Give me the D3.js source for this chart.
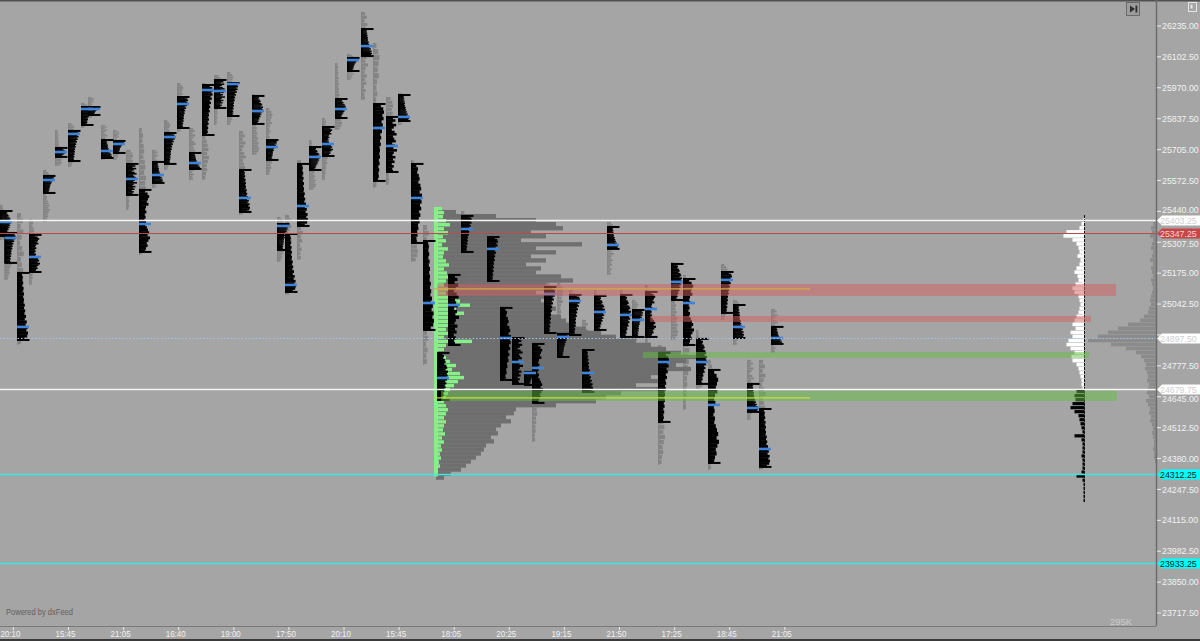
<!DOCTYPE html>
<html><head><meta charset="utf-8">
<script src="https://cdn.jsdelivr.net/npm/d3@7"></script>
<style>
html,body{margin:0;padding:0;background:#a5a5a5;overflow:hidden;}
svg{display:block;}
text{font-family:"Liberation Sans",Arial,sans-serif;}
</style></head><body>
<svg id="chart" width="1200" height="641"></svg>
<script>
// ---------------- DATA ----------------
const timeLabels = ["20:10","15:45","21:05","16:40","19:00","17:50","20:10","15:45","18:05","20:25","19:15","21:50","17:25","18:45","21:05"];
const priceTicks = [23717.5,23850,23982.5,24115,24247.5,24380,24512.5,24645,24777.5,24910,25042.5,25175,25307.5,25440,25572.5,25705,25837.5,25970,26102.5,26235];

// session profiles (slot = time column)
const profSlot = [0,0.36,1.36,2.32,3.44,4.4,5.44,6.48,7.04,8.08,9.04,10.08,11.12,12.16,13.12,14.16,15.12,16.16,17.12,18.16,19.12,20.16,21.28,22.16,22.8,23.76,24.72,25.76,26.8,27.76,28.88,29.84,30.88,31.84,32.88,33.84,34.96,35.84,36.88,38.96,40,40.96,41.92,42.56,43.52,44.56,45.52,46.56,47.52,48.56,49.6,50.56,51.6,52.64,53.68,54.64,55.68,56.64,57.68,58.64,59.76,60.72,61.68];
const profHigh = [25441.5,25347.5,25176,25339,25592,25712,25785,25887.5,25887.5,25746,25742,25643.5,25532,25652,25776,25930.5,25690.5,25982,26003.5,25990.5,25617.5,25935,25746,25386,25343,25643.5,25716,25802,25922,26098,26222,25900.5,25845,25939,25643.5,25313,24833,25167.5,25420.5,25330,25026,24897,24751.5,24871.5,25116,24914.5,25081.5,24845.5,25077.5,25373,25081.5,25017,25094.5,24833,25214.5,25150,24893,24760,25180,25038.5,24700,24592.5,24944.5];
const profLow = [25334.5,25219,24888.5,25180,25519,25673.5,25656,25810.5,25853.5,25669,25690.5,25510.5,25266,25562,25643.5,25797.5,25622,25767.5,25883.5,25849,25437.5,25815,25660.5,25274.5,25094.5,25377.5,25617.5,25677.5,25840.5,26042,26106,25570.5,25609,25827.5,25304.5,24931.5,24631.5,24867,25266,25141.5,24717,24700,24695.5,24618.5,24918.5,24815.5,24910,24665.5,24931.5,25279,24901.5,24901.5,24901.5,24537,25060,24867,24700,24361,25004.5,24897,24580,24344,24871.5];
const profPoc = [25394.5,25326,24944.5,25244.5,25574.5,25694.5,25772,25879,25879,25699,25729,25579,25386,25596,25759,25900.5,25647.5,25960.5,25956,25986,25497.5,25870.5,25716,25377.5,25124.5,25463,25673.5,25729,25879,26089,26149,25797.5,25720.5,25845,25497.5,25047,24725.5,25038.5,25364.5,25279,24897,24794,24747,24768.5,25086,24901.5,25056,24747,25008.5,25296,24996,24974.5,25021.5,24794,25137.5,25047,24794,24610,25146,24944.5,24597,24421,24897];
const profGreyHigh = [25467.5,25437.5,25433,25407.5,25617.5,25789,25819,25905,25930.5,25810.5,25789,25703.5,25797.5,25703.5,25832,25990.5,25797.5,25990.5,26025,26038,25785,25943,25883.5,25416,25424.5,25660.5,25746,25840.5,26076,26115,26295,26162,25930.5,25948,25660.5,25381.5,24833,25167.5,25441.5,25403,25060,24991.5,24781.5,24888.5,25146,25133,25103,24974.5,25103,25394.5,25103,25060,25124.5,24867,25223,25167.5,24931.5,24803,25214.5,25060,24803,24803,25021.5];
const profGreyLow = [25317.5,25146,24867,25124.5,25394.5,25634.5,25630.5,25797.5,25840.5,25660.5,25660.5,25446,25253,25540.5,25617.5,25780.5,25574.5,25574.5,25810.5,25810.5,25424.5,25682,25596,25223,25081.5,25231.5,25532,25574.5,25789,26003.5,25917.5,25540.5,25553,25810.5,25223,24781.5,24631.5,24867,25060,25060,24695.5,24652.5,24674,24451,24888.5,24781.5,24803,24652.5,24888.5,25167.5,24867,24867,24867,24352.5,24888.5,24588.5,24674,24331,24974.5,24867,24545.5,24331,24833];
const profShape = [0,1,2,3,1,0,1,1,1,2,1,4,3,2,1,1,2,1,4,1,2,0,1,1,2,2,0,3,0,1,2,1,4,2,0,2,0,4,1,1,0,4,1,3,1,1,1,2,0,2,0,1,3,1,0,3,0,3,1,2,2,2,2];

// relative histogram shapes (top -> bottom)
const shapeCentered = [.3,.5,.4,.6,.7,.55,.8,.9,.7,1,.85,.95,.75,.9,.65,.8,.6,.7,.5,.55,.4,.45,.3,.35];
const shapeTop      = [.6,.9,1,.8,.95,.7,.85,.6,.75,.55,.65,.5,.6,.45,.5,.4,.5,.35,.45,.3,.4,.3,.35,.25];
const shapeBottom   = [.25,.35,.3,.4,.3,.45,.35,.5,.4,.5,.45,.6,.5,.65,.55,.75,.6,.85,.7,.95,.8,1,.9,.6];
const shapeDouble   = [.4,.7,.9,.75,.6,.8,.5,.4,.55,.35,.45,.3,.5,.4,.6,.75,.9,.7,1,.8,.6,.7,.5,.4];
const shapeRagged   = [.5,.8,.45,.9,.6,.35,.7,.95,.5,.65,.85,.4,.75,.55,1,.6,.45,.8,.5,.7,.35,.6,.4,.5];

// composite (multi-session) volume profile
const rowStep = 17.25;
const compositeSlot = 34.88, compositeTop = 25446;
const compositeVol = [20,60,100,120,127,95,110,85,146,100,120,95,110,90,105,100,125,137,110,120,100,115,105,110,120,115,125,130,140,150,165,180,200,215,230,245,262,250,240,255,230,215,225,200,230,185,170,160,120,80,78,70,75,65,60,62,55,58,50,48,45,40,35,30,25,15,8];
const greenSlot = 34.72, greenTop = 25459;
const greenVol = [8,10,9,12,16,10,14,9,12,8,14,10,9,12,15,10,13,16,12,10,14,12,18,26,36,22,30,18,14,20,12,16,10,38,12,10,8,12,16,22,18,26,30,24,20,16,14,12,10,12,14,12,10,12,10,9,11,8,10,7,8,6,7,5,6,4,3];

// right-hand current profile
const rightSlot = 86.76;
const rightUpperTop = 25411.5;
const rightUpperVol = [1,3,5,18,21,12,8,6,5,7,4,5,8,10,7,6,9,12,10,6,5,4,5,6,8,10,12,9,14,12,16,18,14,10,13,12,8,6,5,4,3,3,2];
const rightLowerTop = 24674;
const rightLowerVol = [8,10,9,12,14,10,6,5,4,3,2,10,3,2,2,2,3,2,2,2,3,8,2,1,1,1,1,1];
// volume-at-price on the price axis
const axisVolTop = 25394.5;
const axisVol = [3,5,4,6,3,4,5,3,4,6,3,5,4,3,5,4,3,4,5,6,5,7,8,12,16,28,38,48,58,68,45,30,20,15,12,10,11,9,8,9,7,8,9,7,10,8,6,7,5,6,4,3,4,3,2,2,3,2,2,1];

// zones
const bandHigh  = [25128.5,24991.5,24837,24670];
const bandLow   = [25077.5,24966,24811.5,24627];
const bandStart = [35.0,52,51.44,35.28];
const bandEnd   = [89.28,87.28,87.12,89.36];
const bandKind  = ["red","red","green","green"];
const bandLinePrice = [25108,24640];
const bandLineStart = [34.72,34.72];
const bandLineEnd   = [64.8,64.8];
const bandLineKind  = ["orange","lime"];

// key levels
const levelPrice = [25403.25,25347.25,24897.50,24679.75,24312.25,23933.25];
const levelKind  = ["white","red","blue","white","cyan","cyan"];

// ---------------- DRAW ----------------
const W=1200,H=641,plotR=1156,plotB=626;
const svg=d3.select("#chart");
const y=d3.scaleLinear().domain([23717.5,26235]).range([613,26]);
const x=d3.scaleLinear().domain([0,92.48]).range([0,plotR]);
const vol=d3.scaleLinear().domain([0,300]).range([0,300]);
const tx=d3.scaleLinear().domain([0,timeLabels.length-1]).range([13.4,784.8]);
const shapes=[shapeCentered,shapeTop,shapeBottom,shapeDouble,shapeRagged];
const fmt=d3.format(".2f");

svg.append("rect").attr("width",W).attr("height",H).attr("fill","#a5a5a5");
svg.append("defs").append("clipPath").attr("id","pc").append("rect")
  .attr("x",0).attr("y",2).attr("width",plotR).attr("height",plotB-2);
const plot=svg.append("g").attr("clip-path","url(#pc)");

// grey session profiles
const gGrey=plot.append("g").attr("fill","#848484");
profSlot.forEach((s,i)=>{
  const x0=x(s),y0=y(profGreyHigh[i]),y1=y(profGreyLow[i]);
  if(y1-y0<1) return;
  const t=shapes[(profShape[i]+2)%shapes.length];
  const h=(y1-y0)/t.length;
  gGrey.append("rect").attr("x",x0).attr("y",y0).attr("width",1.2).attr("height",y1-y0);
  t.forEach((v,j)=>{
    gGrey.append("rect").attr("x",x0).attr("y",y0+j*h).attr("width",1+v*6).attr("height",Math.max(h*0.85,0.9));
  });
});

// composite profile
const gComp=plot.append("g").attr("fill","#6f6f6f");
compositeVol.forEach((v,j)=>{
  const p=compositeTop-j*rowStep;
  gComp.append("rect").attr("x",x(compositeSlot)).attr("y",y(p))
    .attr("width",vol(v)).attr("height",y(p-rowStep)-y(p)+0.3);
});
// green profile
const gGreen=plot.append("g").attr("fill","#86f086");
greenVol.forEach((v,j)=>{
  const p=greenTop-j*rowStep;
  gGreen.append("rect").attr("x",x(greenSlot)).attr("y",y(p))
    .attr("width",vol(v)).attr("height",(y(p-rowStep)-y(p))*0.85);
});
gGreen.append("rect").attr("x",x(greenSlot)).attr("y",y(greenTop))
  .attr("width",4).attr("height",y(greenTop-(greenVol.length)*rowStep)-y(greenTop));

// black TPO profiles
const gBlack=plot.append("g").attr("fill","#000");
const gPoc=plot.append("g").attr("fill","#3f84d8");
profSlot.forEach((s,i)=>{
  const x0=x(s),y0=y(profHigh[i]),y1=y(profLow[i]);
  const t=shapes[profShape[i]];
  const h=(y1-y0)/t.length;
  gBlack.append("rect").attr("x",x0).attr("y",y0).attr("width",2).attr("height",y1-y0);
  t.forEach((v,j)=>{
    gBlack.append("rect").attr("x",x0).attr("y",y0+j*h).attr("width",3+v*8).attr("height",h+0.3);
  });
  gBlack.append("rect").attr("x",x0).attr("y",y0-1).attr("width",12.5).attr("height",2);
  gBlack.append("rect").attr("x",x0).attr("y",y1-1).attr("width",12.5).attr("height",2);
  gPoc.append("rect").attr("x",x0).attr("y",y(profPoc[i])-1.3).attr("width",12).attr("height",2.6);
});

// right profile
const gRight=plot.append("g");
rightUpperVol.forEach((v,j)=>{
  const p=rightUpperTop-j*rowStep;
  gRight.append("rect").attr("x",x(rightSlot)-vol(v)).attr("y",y(p))
    .attr("width",vol(v)).attr("height",(y(p-rowStep)-y(p))*0.9).attr("fill","#ffffff");
});
rightLowerVol.forEach((v,j)=>{
  const p=rightLowerTop-j*rowStep;
  gRight.append("rect").attr("x",x(rightSlot)-vol(v)).attr("y",y(p))
    .attr("width",vol(v)).attr("height",(y(p-rowStep)-y(p))*0.8).attr("fill","#000");
});
gRight.append("line").attr("x1",x(rightSlot)).attr("x2",x(rightSlot))
  .attr("y1",y(rightUpperTop)-3).attr("y2",y(rightLowerTop-rightLowerVol.length*rowStep))
  .attr("stroke","#111").attr("stroke-width",1).attr("stroke-dasharray","3,1");

// axis volume
const gAx=plot.append("g").attr("fill","#8b8b8b");
axisVol.forEach((v,j)=>{
  const p=axisVolTop-j*rowStep;
  gAx.append("rect").attr("x",plotR-vol(v)).attr("y",y(p))
    .attr("width",vol(v)).attr("height",(y(p-rowStep)-y(p))*0.9);
});

// zones
const bandFill={red:"#d35e5e",green:"#62bf3f"};
bandHigh.forEach((hp,i)=>{
  plot.append("rect").attr("x",x(bandStart[i])).attr("y",y(hp))
    .attr("width",x(bandEnd[i])-x(bandStart[i])).attr("height",y(bandLow[i])-y(hp))
    .attr("fill",bandFill[bandKind[i]]).attr("fill-opacity",0.5);
});
const bandLineCol={orange:"#d8a848",lime:"#c8d848"};
bandLinePrice.forEach((p,i)=>{
  plot.append("line").attr("x1",x(bandLineStart[i])).attr("x2",x(bandLineEnd[i]))
    .attr("y1",y(p)).attr("y2",y(p)).attr("stroke",bandLineCol[bandLineKind[i]]).attr("stroke-width",1.2);
});

// key levels
const lvlStroke={white:"#f5f5f5",red:"#b84a4a",blue:"#9cc4f4",cyan:"#3ae6e6"};
levelPrice.forEach((p,i)=>{
  const k=levelKind[i];
  plot.append("line").attr("x1",0).attr("x2",plotR).attr("y1",Math.round(y(p))+0.5).attr("y2",Math.round(y(p))+0.5)
    .attr("stroke",lvlStroke[k]).attr("stroke-width",k==="red"?1:(k==="blue"?1:1.5))
    .attr("stroke-dasharray",k==="blue"?"1.5,2":null);
});

// frame
svg.append("rect").attr("x",0).attr("y",0).attr("width",W).attr("height",1.5).attr("fill","#505050");
svg.append("line").attr("x1",plotR+0.5).attr("x2",plotR+0.5).attr("y1",0).attr("y2",plotB).attr("stroke","#6c6c6c").attr("stroke-width",1.5);
svg.append("line").attr("x1",0).attr("x2",plotR).attr("y1",plotB+0.5).attr("y2",plotB+0.5).attr("stroke","#7a7a7a").attr("stroke-width",1.2);
svg.append("rect").attr("x",0).attr("y",H-2).attr("width",W).attr("height",2).attr("fill","#3a3a3a");

// price axis
const gY=svg.append("g");
priceTicks.forEach(p=>{
  const yy=y(p);
  gY.append("line").attr("x1",plotR+1).attr("x2",plotR+5).attr("y1",yy).attr("y2",yy).attr("stroke","#eeeeee");
  const covered=levelPrice.some(l=>Math.abs(y(l)-yy)<6);
  if(covered) return;
  // nudge labels that sit just under/over a level tag
  let shift=0;
  levelPrice.forEach(l=>{const d=yy-y(l); if(Math.abs(d)<10) shift=(d>0?1:-1)*(10.5-Math.abs(d));});
  gY.append("text").attr("x",plotR+6).attr("y",yy+shift).attr("dy","0.35em").attr("font-size",8.8)
    .attr("fill","#f2f2f2").text(fmt(p));
});
// key level tags
const tagFill={white:"#ffffff",red:"#c84646",blue:"#ffffff",cyan:"#00ffff"};
const tagText={white:"#cfcfcf",red:"#f3d6d6",blue:"#cfcfcf",cyan:"#002424"};
levelPrice.forEach((p,i)=>{
  const k=levelKind[i], yy=Math.round(y(p))+0.5;
  gY.append("path").attr("d",`M${plotR+1},${yy} L${plotR+6},${yy-5} L${W},${yy-5} L${W},${yy+5} L${plotR+6},${yy+5} Z`)
    .attr("fill",tagFill[k]);
  gY.append("text").attr("x",plotR+4).attr("y",yy).attr("dy","0.36em").attr("font-size",8.8)
    .attr("fill",tagText[k]).text(fmt(p));
});

// time axis
const gX=svg.append("g");
timeLabels.forEach((lab,i)=>{
  const xx=tx(i);
  gX.append("line").attr("x1",xx).attr("x2",xx).attr("y1",plotB+1).attr("y2",plotB+4).attr("stroke","#eeeeee");
  gX.append("text").attr("x",Math.max(xx-13,0)).attr("y",637).attr("font-size",9.5)
    .attr("textLength",20).attr("lengthAdjust","spacingAndGlyphs")
    .attr("fill","#f2f2f2").text(lab);
});

// captions & icons
svg.append("text").attr("x",6).attr("y",615).attr("font-size",8.5).attr("fill","#5f5f5f")
  .attr("textLength",67).attr("lengthAdjust","spacingAndGlyphs").text("Powered by dxFeed");
svg.append("text").attr("x",1110).attr("y",625).attr("font-size",9.5).attr("fill","#cdcdcd").text("295K");
svg.append("rect").attr("x",1126.5).attr("y",2.5).attr("width",13).attr("height",13)
  .attr("fill","#9c9c9c").attr("stroke","#6a6a6a");
svg.append("path").attr("d","M1130,5.5 L1135,9 L1130,12.5 Z").attr("fill","#2e2e2e");
svg.append("rect").attr("x",1135.5).attr("y",5.5).attr("width",1.8).attr("height",7).attr("fill","#2e2e2e");
svg.append("rect").attr("x",1188.5).attr("y",2.5).attr("width",8).attr("height",9)
  .attr("fill","none").attr("stroke","#e6e6e6");
svg.append("rect").attr("x",1190.5).attr("y",4.5).attr("width",2).attr("height",4).attr("fill","#e6e6e6");
</script>
</body></html>
